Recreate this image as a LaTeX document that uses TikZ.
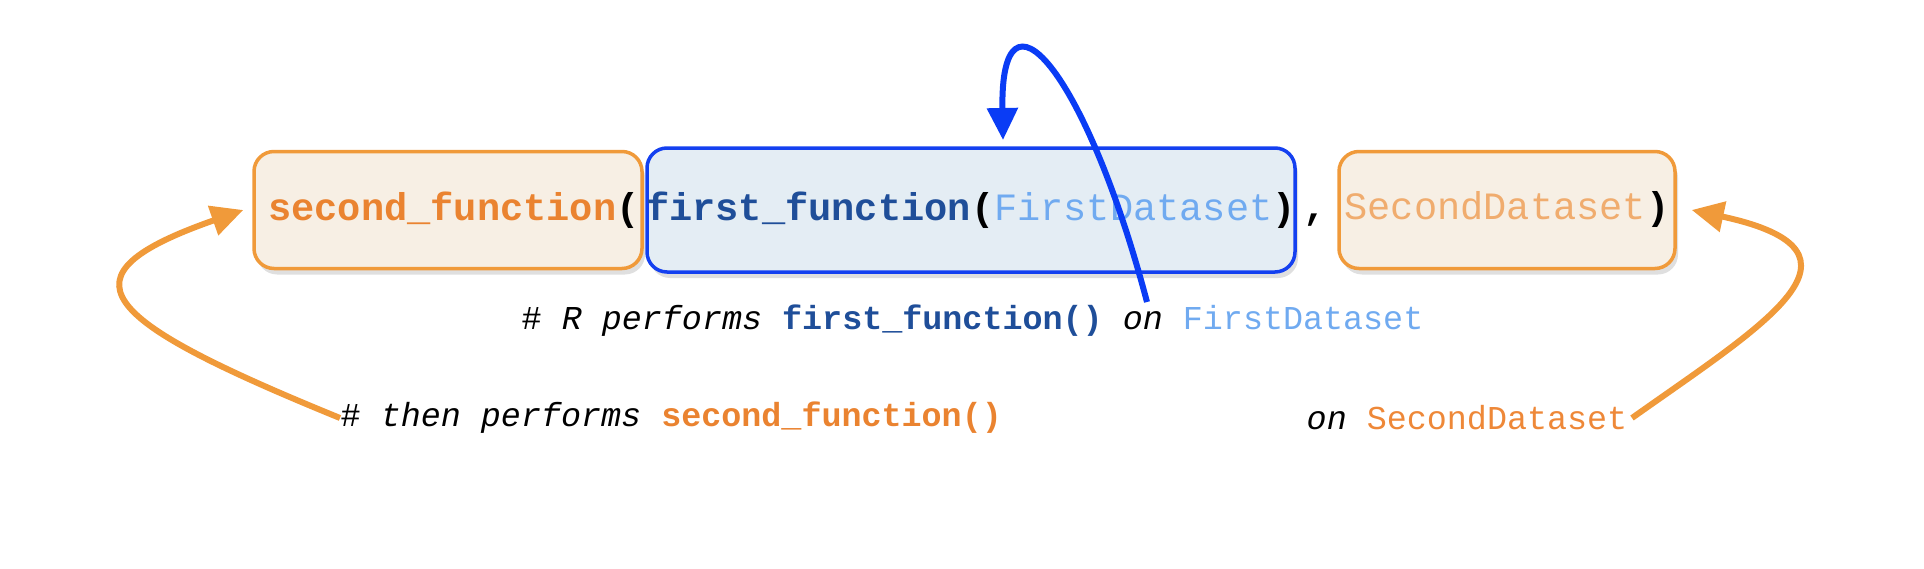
\documentclass[tikz,border=0pt]{standalone}
\usepackage{fontspec}
\setmonofont{Liberation Mono}
\usetikzlibrary{arrows.meta,positioning,shadows}

\definecolor{orangeline}{RGB}{240,154,58}
\definecolor{orangefill}{RGB}{247,239,228}
\definecolor{blueline}{RGB}{20,64,240}
\definecolor{bluefill}{RGB}{228,237,244}
\definecolor{secfn}{RGB}{234,131,48}
\definecolor{firstfn}{RGB}{31,78,153}
\definecolor{firstds}{RGB}{112,170,240}
\definecolor{secds}{RGB}{240,172,110}
\definecolor{secdsdark}{RGB}{238,136,56}
\definecolor{arrowblue}{RGB}{10,60,245}

\begin{document}
\begin{tikzpicture}[
    codebox/.style={rounded corners=0.2cm, line width=0.035cm, minimum height=1.17cm,
        inner xsep=-0.05cm, inner ysep=0pt,
        font=\ttfamily\fontsize{11}{13}\selectfont,
        drop shadow={shadow xshift=0.3mm, shadow yshift=-0.6mm, opacity=0.25}},
    comment/.style={inner sep=0pt, font=\ttfamily\fontsize{9.5}{12}\selectfont},
    flow/.style={line width=0.06cm, -{Triangle[length=0.32cm,width=0.3cm]}}
]
    \useasboundingbox (0,0) rectangle (19.24,5.68);

    % Nested call
    \node[codebox, draw=orangeline, fill=orangefill, minimum width=3.88cm] (secbox) at (4.48,3.58)
        {\hspace*{0.12cm}\textbf{{\color{secfn}second\_function}(}};
    \node[codebox, draw=blueline, fill=bluefill, minimum width=6.48cm, minimum height=1.24cm] (firstbox) at (9.71,3.58)
        {\textbf{{\color{firstfn}first\_function}(}{\color{firstds}FirstDataset}\textbf{)}};
    \node[inner sep=0pt, font=\ttfamily\fontsize{11}{13}\selectfont] (comma) at (13.15,3.58) {\textbf{,}\vphantom{()}};
    \node[codebox, draw=orangeline, fill=orangefill, minimum width=3.36cm] (secdbox) at (15.07,3.58)
        {{\color{secds}SecondDataset}\textbf{)}};

    % Comments
    \node[comment, anchor=west] (firstnote) at (5.21,2.47)
        {\# \textit{R performs} \textbf{\color{firstfn}first\_function()} \textit{on} {\color{firstds}FirstDataset}};
    \node[comment, anchor=west] (thennote) at (3.40,1.50)
        {\# \textit{then performs} \textbf{\color{secfn}second\_function()}};
    \node[comment, anchor=east] (onnote) at (16.28,1.50)
        {\textit{on} {\color{secdsdark}SecondDataset}};

    % Arrows
    \coordinate (loopfoot) at (11.47,2.66);
    \coordinate (looptip) at (10.03,4.28);
    \draw[flow, arrowblue] (loopfoot) .. controls (10.85,5.0) and (10.0,5.95) .. (looptip);
    \draw[flow, orangeline] (thennote.west) .. controls (0.95,2.5) and (0.55,2.92) .. ([xshift=-0.09cm]secbox.west);
    \draw[flow, orangeline] ([xshift=0.04cm]onnote.east) .. controls (17.63,2.43) and (18.87,3.16) .. ([xshift=0.15cm]secdbox.east);
\end{tikzpicture}
\end{document}
